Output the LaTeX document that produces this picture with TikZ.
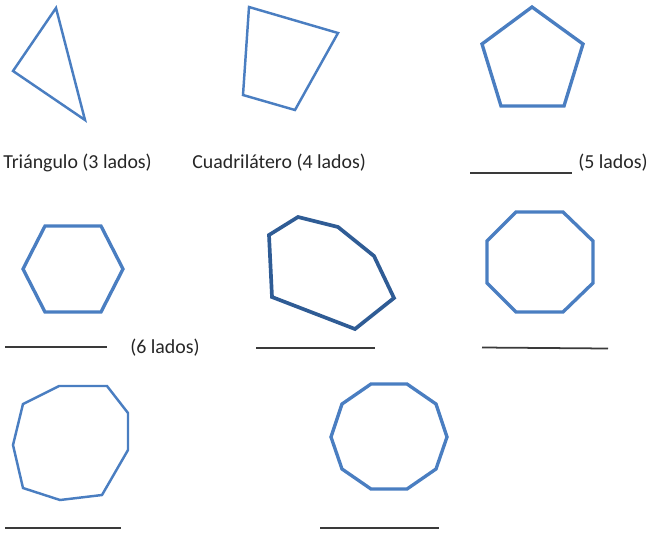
\documentclass[tikz,border=0pt]{standalone}
\usepackage{fontspec}
\setmainfont{Carlito}
\usepackage{tikz}
\definecolor{azul}{HTML}{4A7EC1}
\definecolor{azulo}{HTML}{2F5C95}
\definecolor{negro}{HTML}{3A3A3A}
\tikzset{
  figura/.style={azul,line width=1.9pt,line join=miter},
  figurad/.style={azul,line width=1.4pt},
  figurao/.style={azulo,line width=2.1pt},
  raya/.style={negro,line width=1pt},
  rotulo/.style={anchor=west,inner sep=0pt,font=\fontsize{11.3}{13}\selectfont,text=black!85},
}
\begin{document}
\begin{tikzpicture}[x=0.02cm,y=-0.02cm]
  \useasboundingbox (0,0) rectangle (650,532);
  % primera fila
  \draw[figurad] (56,8)--(13,71)--(85,120)--cycle;
  \draw[figurad] (249,7)--(338,33)--(295,110)--(243,95)--cycle;
  \draw[figura] (532,7)--(583,44)--(564,106)--(501,106)--(482,44)--cycle;
  \node[rotulo] (tri) at (3,163) {Triángulo (3 lados)};
  \node[rotulo] (cua) at (192,163) {Cuadrilátero (4 lados)};
  \draw[raya] (470,173)--(572,173);
  \node[rotulo] (pen) at (578,163) {(5 lados)};
  % segunda fila
  \draw[figura] (45,226)--(101,226)--(123,269)--(101,312)--(45,312)--(23,269)--cycle;
  \draw[raya] (5,347)--(107,347);
  \node[rotulo] (hex) at (130,348) {(6 lados)};
  \draw[figurao] (298,217)--(338,227)--(374,256)--(394,298)--(355,329)--(272,297)--(269,235)--cycle;
  \draw[raya] (256,348)--(375,348);
  \draw[figura] (516,212)--(563,212)--(593,241)--(593,283)--(563,312)--(516,312)--(487,283)--(487,241)--cycle;
  \draw[raya] (482,347.5)--(608,348.5);
  % tercera fila
  \draw[figurad] (59,386)--(107,386)--(128,413)--(128,450)--(102,495)--(60,500)--(23,488)--(13,445)--(23,404)--cycle;
  \draw[raya] (5,528)--(121,528);
  \draw[figura] (371,384)--(407,384)--(436,404)--(447,437)--(436,469)--(407,489)--(371,489)--(342,469)--(331,437)--(342,404)--cycle;
  \draw[raya] (320,528)--(439,528);
\end{tikzpicture}
\end{document}
